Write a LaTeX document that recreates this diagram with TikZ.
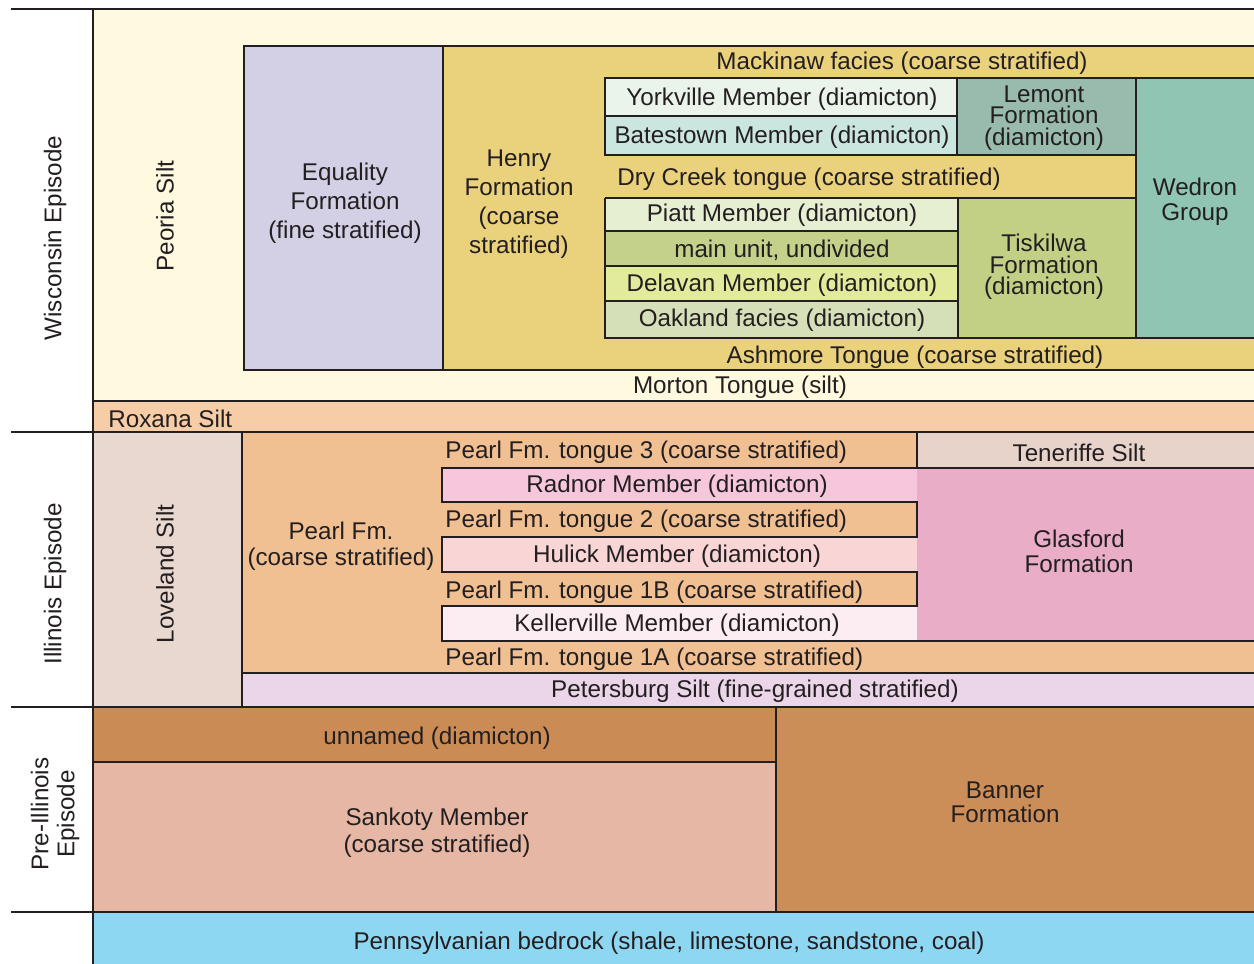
\documentclass[tikz,border=0pt]{standalone}
\usepackage{fontspec}
\setmainfont{Liberation Sans}
\definecolor{ink}{HTML}{231F20}
\definecolor{lemon}{HTML}{FEF9DF}
\definecolor{roxana}{HTML}{F7CDA8}
\definecolor{equality}{HTML}{D3D0E6}
\definecolor{henry}{HTML}{EAD17C}
\definecolor{yorkville}{HTML}{EAF4EA}
\definecolor{batestown}{HTML}{CBE6DF}
\definecolor{lemont}{HTML}{98BBAE}
\definecolor{wedron}{HTML}{8FC5B2}
\definecolor{piatt}{HTML}{E6EFD2}
\definecolor{mainunit}{HTML}{C3D18A}
\definecolor{delavan}{HTML}{E2EA9B}
\definecolor{oakland}{HTML}{D5E0B9}
\definecolor{tiskilwa}{HTML}{C2D086}
\definecolor{loveland}{HTML}{E8D8D0}
\definecolor{pearl}{HTML}{F0BF92}
\definecolor{teneriffe}{HTML}{E8D3CB}
\definecolor{radnor}{HTML}{F5C6DC}
\definecolor{hulick}{HTML}{F9D5D5}
\definecolor{kellerville}{HTML}{FCEDF2}
\definecolor{glasford}{HTML}{E9ADC8}
\definecolor{petersburg}{HTML}{EAD6E8}
\definecolor{unnamed}{HTML}{CB8B55}
\definecolor{banner}{HTML}{CC8E58}
\definecolor{sankoty}{HTML}{E5B7A4}
\definecolor{bedrock}{HTML}{8ED7F3}
\begin{document}
\begin{tikzpicture}[x=0.5pt, y=-0.5pt,
rule/.style={draw=ink, line width=1.4pt},
lbl/.style={text=ink, font=\fontsize{12.1}{14.5}\selectfont, align=center, inner sep=0pt, yshift=-1pt},
tight/.style={lbl, font=\fontsize{12.1}{10.8}\selectfont},
left lbl/.style={lbl, anchor=west}]
\useasboundingbox (0,0) rectangle (1254,964);
% Wisconsin Episode
\fill[lemon] (93,9) rectangle (1254,401);
\fill[roxana] (93,401) rectangle (1254,432);
\fill[equality] (244,46) rectangle (443,370);
\fill[henry] (443,46) rectangle (1254,370);
\fill[yorkville] (605,78) rectangle (957,116);
\fill[batestown] (605,116) rectangle (957,155);
\fill[lemont] (957,78) rectangle (1136,155);
\fill[wedron] (1136,78) rectangle (1254,338);
\fill[piatt] (605,198) rectangle (958,231);
\fill[mainunit] (605,231) rectangle (958,266);
\fill[delavan] (605,266) rectangle (958,301);
\fill[oakland] (605,301) rectangle (958,338);
\fill[tiskilwa] (958,198) rectangle (1136,338);
% Illinois Episode
\fill[loveland] (93,432) rectangle (242,707);
\fill[pearl] (242,432) rectangle (1254,673);
\fill[teneriffe] (917,432) rectangle (1254,468);
\fill[radnor] (442,468) rectangle (917,502);
\fill[hulick] (442,537) rectangle (917,572);
\fill[kellerville] (442,606) rectangle (917,641);
\fill[glasford] (917,468) rectangle (1254,641);
\fill[petersburg] (242,673) rectangle (1254,707);
% Pre-Illinois Episode and bedrock
\fill[unnamed] (93,707) rectangle (776,762);
\fill[sankoty] (93,762) rectangle (776,912);
\fill[banner] (776,707) rectangle (1254,912);
\fill[bedrock] (93,912) rectangle (1254,964);
% rules
\foreach \y in {9,432,707,912}
  \draw[rule] (11,\y) -- (1254,\y);
\draw[rule] (93,9) -- (93,964);
\draw[rule] (93,401) -- (1254,401);
\draw[rule] (1254,46) -- (244,46) -- (244,370) -- (1254,370);
\draw[rule] (443,46) -- (443,370);
\draw[rule] (1254,78) -- (605,78) -- (605,155) -- (1136,155);
\draw[rule] (605,116) -- (957,116);
\draw[rule] (957,78) -- (957,155);
\draw[rule] (1136,78) -- (1136,338);
\draw[rule] (605,198) -- (1136,198);
\draw[rule] (605,198) -- (605,338) -- (1254,338);
\foreach \y in {231,266,301}
  \draw[rule] (605,\y) -- (958,\y);
\draw[rule] (958,198) -- (958,338);
\draw[rule] (242,432) -- (242,707);
\draw[rule] (917,432) -- (917,468);
\draw[rule] (1254,468) -- (442,468) -- (442,502) -- (917,502) -- (917,537) -- (442,537)
  -- (442,572) -- (917,572) -- (917,606) -- (442,606) -- (442,641) -- (1254,641);
\draw[rule] (242,673) -- (1254,673);
\draw[rule] (776,707) -- (776,912);
\draw[rule] (93,762) -- (776,762);
% labels
\node[lbl, rotate=90] (wisconsin) at (55,236) {Wisconsin Episode};
\node[lbl, rotate=90] (peoria) at (165,214) {Peoria Silt};
\node[lbl] (equalityF) at (345,201) {Equality\\Formation\\(fine stratified)};
\node[lbl] (henryF) at (519,202) {Henry\\Formation\\(coarse\\stratified)};
\node[lbl] (mackinaw) at (902,61) {Mackinaw facies (coarse stratified)};
\node[lbl] (yorkvilleM) at (782,97) {Yorkville Member (diamicton)};
\node[lbl] (batestownM) at (782,135) {Batestown Member (diamicton)};
\node[tight] (lemontF) at (1044,116) {Lemont\\Formation\\(diamicton)};
\node[left lbl] (drycreek) at (617,177) {Dry Creek tongue (coarse stratified)};
\node[lbl, font=\fontsize{12.1}{12.5}\selectfont] (wedronG) at (1195,200) {Wedron\\Group};
\node[lbl] (piattM) at (782,213) {Piatt Member (diamicton)};
\node[lbl] (mainU) at (782,248) {main unit, undivided};
\node[lbl] (delavanM) at (782,283) {Delavan Member (diamicton)};
\node[lbl] (oaklandF) at (782,318) {Oakland facies (diamicton)};
\node[tight] (tiskilwaF) at (1044,265) {Tiskilwa\\Formation\\(diamicton)};
\node[lbl] (ashmore) at (915,355) {Ashmore Tongue (coarse stratified)};
\node[lbl] (morton) at (740,385) {Morton Tongue (silt)};
\node[left lbl] (roxanaS) at (108,417) {Roxana Silt};
\node[lbl, rotate=90] (illinois) at (55,582) {Illinois Episode};
\node[lbl, rotate=90] (lovelandS) at (165,572) {Loveland Silt};
\node[lbl, font=\fontsize{12.1}{13}\selectfont] (pearlF) at (341,544) {Pearl Fm.\\(coarse stratified)};
\node[left lbl] (tongue3) at (445,450) {Pearl Fm. tongue 3 (coarse stratified)};
\node[lbl] (teneriffeS) at (1079,451) {Teneriffe Silt};
\node[lbl] (radnorM) at (677,484) {Radnor Member (diamicton)};
\node[left lbl] (tongue2) at (445,519) {Pearl Fm. tongue 2 (coarse stratified)};
\node[lbl] (hulickM) at (677,554) {Hulick Member (diamicton)};
\node[left lbl] (tongue1B) at (445,590) {Pearl Fm. tongue 1B (coarse stratified)};
\node[lbl] (kellervilleM) at (677,623) {Kellerville Member (diamicton)};
\node[lbl, font=\fontsize{12.1}{12.5}\selectfont] (glasfordF) at (1079,549) {Glasford\\Formation};
\node[left lbl] (tongue1A) at (445,657) {Pearl Fm. tongue 1A (coarse stratified)};
\node[lbl] (petersburgS) at (755,689) {Petersburg Silt (fine-grained stratified)};
\node[lbl] (unnamedD) at (437,736) {unnamed (diamicton)};
\node[lbl, font=\fontsize{12.1}{13.5}\selectfont] (sankotyM) at (437,831) {Sankoty Member\\(coarse stratified)};
\node[lbl, font=\fontsize{12.1}{12}\selectfont] (bannerF) at (1005,800) {Banner\\Formation};
\node[lbl, rotate=90, font=\fontsize{12.1}{13}\selectfont] (preillinois) at (55,812) {Pre-Illinois\\Episode};
\node[lbl] (bedrockP) at (669,941) {Pennsylvanian bedrock (shale, limestone, sandstone, coal)};
\end{tikzpicture}
\end{document}
